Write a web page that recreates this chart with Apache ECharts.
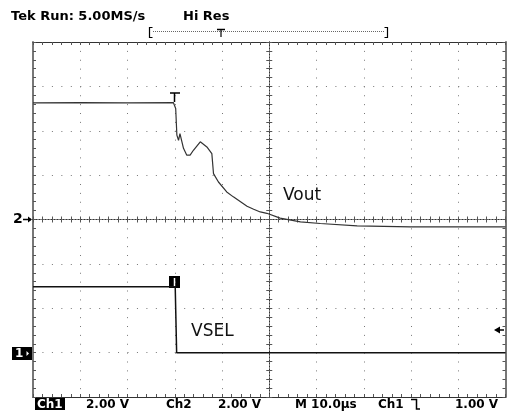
<!DOCTYPE html>
<html>
<head>
<meta charset="utf-8">
<script src="https://cdn.jsdelivr.net/npm/echarts@6/dist/echarts.min.js"></script>
<style>
html, body { margin: 0; padding: 0; background: #fff; }
#main { width: 507px; height: 417px; }
</style>
</head>
<body>
<div id="main"></div>
<script>
// Ch2 trace (Vout), time in us from screen centre, volts from Ch2 ground
var voutTime  = [-50, -40, -30, -20.3, -20.0, -19.8, -19.55, -19.2, -18.9, -18.5, -18.15, -17.45, -16.75, -16.05, -14.6, -13.2, -12.15, -11.8, -10.75, -10.4, -9.0, -7.6, -4.7, -3.3, -1.9, -0.5, 2.3, 6.6, 10.8, 18.6, 29.9, 50];
var voutVolts = [5.26, 5.27, 5.26, 5.27, 5.27, 5.00, 3.80, 3.57, 3.87, 3.80, 3.21, 2.90, 2.90, 3.12, 3.50, 3.27, 2.97, 2.07, 1.69, 1.64, 1.24, 1.02, 0.60, 0.46, 0.34, 0.28, 0.06, -0.11, -0.18, -0.29, -0.33, -0.33];
// Ch1 trace (VSEL)
var vselTime  = [-50, -19.9, -19.6, 50];
var vselVolts = [2.97, 2.97, 0, 0];

// scope settings: volts per division, ground marker in divisions from centre
var ch1Scale = 2, ch1Ground = -3;
var ch2Scale = 2, ch2Ground = 0;

function toDiv(times, volts, scale, ground) {
	var out = [];
	for (var i = 0; i < times.length; i++) {
		out.push([times[i], volts[i] / scale + ground]);
	}
	return out;
}

var myChart = echarts.init(document.getElementById('main'));

var tickColor = '#555';
var dotColor = '#777';

function xAx(pos, onZero, inside, split, lineStyle) {
	return {
		type: 'value', min: -50, max: 50, interval: 10, position: pos,
		axisLabel: { show: false },
		axisLine: { show: true, onZero: onZero, onZeroAxisIndex: 0, lineStyle: lineStyle },
		axisTick: { show: true, inside: inside, length: 3, lineStyle: { color: tickColor } },
		minorTick: { show: true, splitNumber: 5, length: 3, lineStyle: { color: tickColor } },
		splitLine: { show: split, lineStyle: { color: dotColor, width: 1, type: [1, 7.875] } }
	};
}

function yAx(pos, onZero, inside, split, lineStyle) {
	return {
		type: 'value', min: -4, max: 4, interval: 1, position: pos,
		axisLabel: { show: false },
		axisLine: { show: true, onZero: onZero, onZeroAxisIndex: 0, lineStyle: lineStyle },
		axisTick: { show: true, inside: inside, length: 3, lineStyle: { color: tickColor } },
		minorTick: { show: true, splitNumber: 5, length: 3, lineStyle: { color: tickColor } },
		splitLine: { show: split, lineStyle: { color: dotColor, width: 1, type: [1, 8.45] } }
	};
}

var centre = { color: '#333', width: 1, type: [1, 2] };

function txt(x, y, s, font, fill) {
	return {
		type: 'text', x: x, y: y, z: 100,
		style: { text: s, font: font, fill: fill || '#000', textVerticalAlign: 'middle', verticalAlign: 'middle' }
	};
}

var hdFont = 'bold 13px "DejaVu Sans"';
var ftFont = 'bold 12px "DejaVu Sans"';
var lblFont = '17px "DejaVu Sans"';

var option = {
	animation: false,
	backgroundColor: '#fff',
	grid: { left: 33, right: 1.5, top: 42, bottom: 20, containLabel: false, outerBoundsMode: 'none' },
	xAxis: [
		xAx('bottom', false, true, true, { color: '#333', width: 1 }),
		xAx('top', false, true, false, { color: '#333', width: 1 }),
		xAx('bottom', true, true, false, centre),
		xAx('bottom', true, false, false, centre)
	],
	yAxis: [
		yAx('left', false, true, true, { color: '#777', width: 2 }),
		yAx('right', false, true, false, { color: '#777', width: 2 }),
		yAx('left', true, true, false, centre),
		yAx('left', true, false, false, centre)
	],
	series: [
		{
			name: 'Vout', type: 'line', xAxisIndex: 0, yAxisIndex: 0,
			showSymbol: false, z: 10,
			lineStyle: { color: '#333', width: 1.2 },
			data: toDiv(voutTime, voutVolts, ch2Scale, ch2Ground)
		},
		{
			name: 'VSEL', type: 'line', xAxisIndex: 0, yAxisIndex: 0,
			showSymbol: false, z: 10,
			lineStyle: { color: '#111', width: 1.5 },
			data: toDiv(vselTime, vselVolts, ch1Scale, ch1Ground)
		}
	],
	graphic: [
		// header
		txt(11, 16.5, 'Tek Run: 5.00MS/s', hdFont),
		txt(183, 16.5, 'Hi Res', hdFont),
		{ type: 'polyline', shape: { points: [[152.5, 27.5], [149.5, 27.5], [149.5, 37.5], [152.5, 37.5]] }, style: { stroke: '#000', lineWidth: 1.2, fill: null } },
		{ type: 'polyline', shape: { points: [[384.5, 27.5], [387.5, 27.5], [387.5, 37.5], [384.5, 37.5]] }, style: { stroke: '#000', lineWidth: 1.2, fill: null } },
		{ type: 'line', shape: { x1: 153, y1: 31.5, x2: 384, y2: 31.5 }, style: { stroke: '#666', lineWidth: 1, lineDash: [1, 1] } },
		{ type: 'polyline', shape: { points: [[217, 29.5], [225, 29.5]] }, style: { stroke: '#000', lineWidth: 1.5, fill: null } },
		{ type: 'line', shape: { x1: 221, y1: 29.5, x2: 221, y2: 37 }, style: { stroke: '#000', lineWidth: 1.2 } },
		// footer
		{ type: 'rect', shape: { x: 35, y: 398, width: 30, height: 12 }, style: { fill: '#000' } },
		txt(37, 404.5, 'Ch1', ftFont, '#fff'),
		txt(86, 404.5, '2.00 V', ftFont),
		txt(166, 404.5, 'Ch2', ftFont),
		txt(218, 404.5, '2.00 V', ftFont),
		txt(295, 404.5, 'M 10.0\u00b5s', ftFont),
		txt(378, 404.5, 'Ch1', ftFont),
		{ type: 'polyline', shape: { points: [[411, 399.5], [416.5, 399.5], [416.5, 409], [420, 409]] }, style: { stroke: '#000', lineWidth: 1.5, fill: null } },
		txt(455, 404.5, '1.00 V', ftFont),
		// ground markers
		txt(13, 219.5, '2', 'bold 14px "DejaVu Sans"'),
		{ type: 'line', shape: { x1: 23, y1: 219.5, x2: 31, y2: 219.5 }, style: { stroke: '#000', lineWidth: 1.5 } },
		{ type: 'polygon', shape: { points: [[32, 219.5], [28, 216.5], [28, 222.5]] }, style: { fill: '#000' } },
		{ type: 'rect', shape: { x: 12, y: 347, width: 20, height: 13 }, style: { fill: '#000' } },
		txt(15, 353.5, '1', 'bold 12px "DejaVu Sans"', '#fff'),
		{ type: 'polygon', shape: { points: [[29, 353.5], [26.5, 351], [26.5, 356]] }, style: { fill: '#fff' } },
		// trigger level on the right
		{ type: 'polygon', shape: { points: [[494, 330], [500, 326.5], [500, 333.5]] }, style: { fill: '#000' } },
		{ type: 'line', shape: { x1: 500, y1: 330, x2: 504, y2: 330 }, style: { stroke: '#000', lineWidth: 1.5 } },
		// trigger point markers
		{ type: 'line', shape: { x1: 170, y1: 93, x2: 180, y2: 93 }, style: { stroke: '#000', lineWidth: 1.5 } },
		{ type: 'line', shape: { x1: 174.5, y1: 93, x2: 174.5, y2: 102 }, style: { stroke: '#000', lineWidth: 1.5 } },
		{ type: 'rect', shape: { x: 169, y: 276, width: 11, height: 12 }, style: { fill: '#000' } },
		{ type: 'line', shape: { x1: 174.5, y1: 278, x2: 174.5, y2: 286 }, style: { stroke: '#fff', lineWidth: 1.5 } },
		// trace labels
		txt(283, 195.5, 'Vout', lblFont, '#111'),
		txt(191, 331.5, 'VSEL', lblFont, '#111')
	]
};

myChart.setOption(option, true);
</script>
</body>
</html>
